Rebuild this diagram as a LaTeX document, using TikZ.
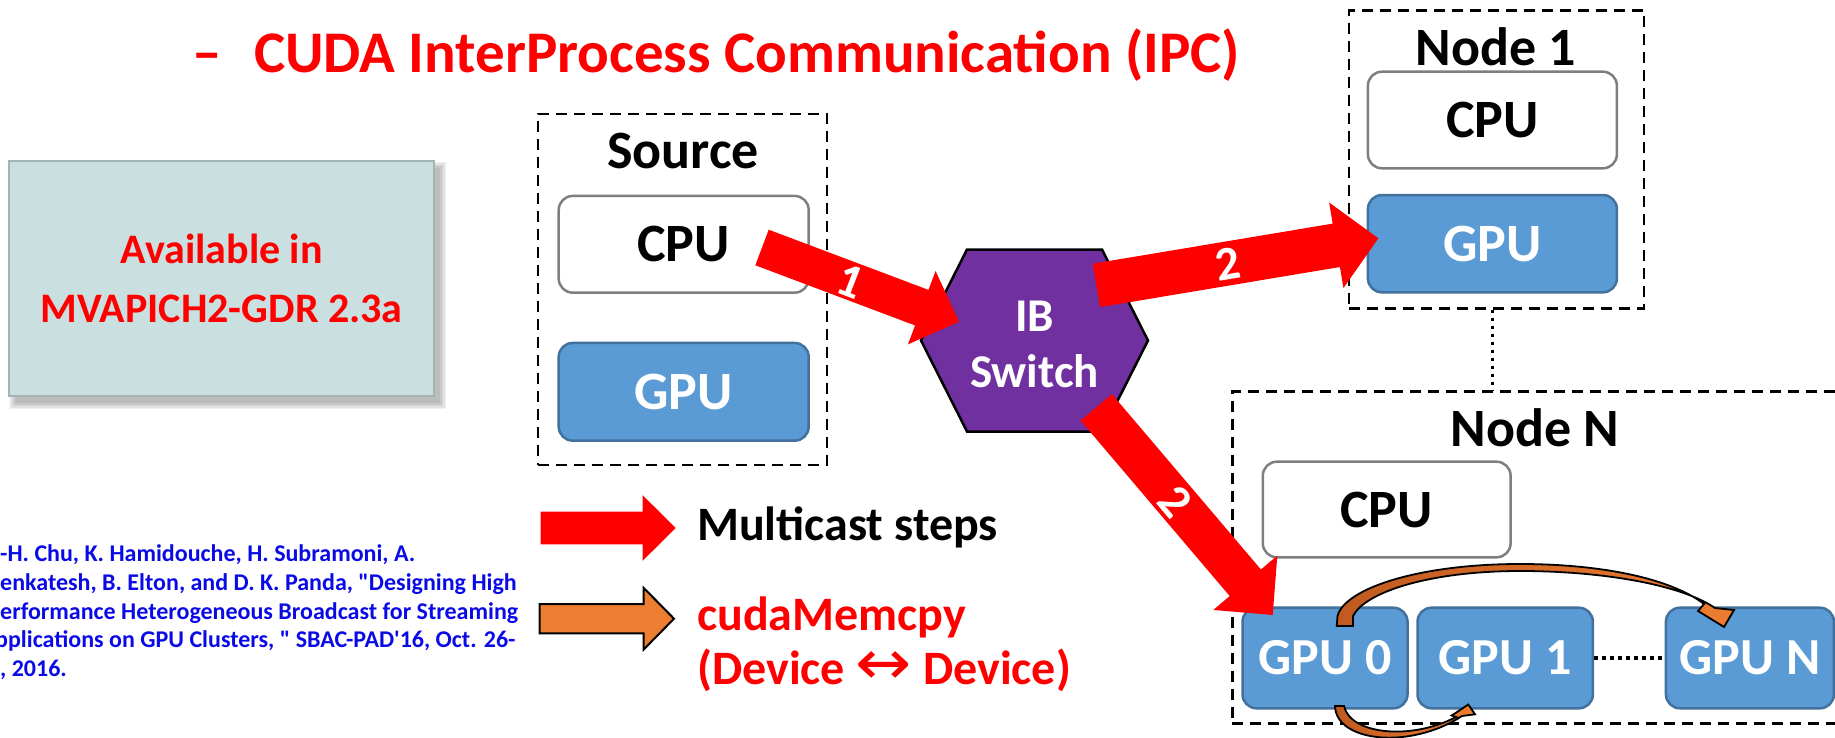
\documentclass[tikz,border=0pt]{standalone}
\usepackage{fontspec}
\setmainfont{Carlito}
\newfontfamily\dejavu{DejaVu Sans}
\usetikzlibrary{calc}
\definecolor{gpufill}{HTML}{5B9BD5}
\definecolor{gpuline}{HTML}{41719C}
\definecolor{cpuline}{HTML}{7F7F7F}
\definecolor{ibfill}{HTML}{7030A0}
\definecolor{orangeA}{HTML}{ED7D31}
\definecolor{orangeB}{HTML}{C05A20}
\definecolor{notefill}{HTML}{CADFDF}
\definecolor{noteline}{HTML}{A3B4B4}
\definecolor{refblue}{RGB}{10,10,230}
\definecolor{pptred}{HTML}{FF0000}
% #1 style, #2 tail, #3 tip, #4 half shaft, #5 half head, #6 head length
\newcommand{\fatarrow}[6]{%
  \coordinate (fa-h) at ($(#3)!#6!(#2)$);
  \path[#1] ($(#2)!#4!90:(#3)$) -- ($(fa-h)!#4!90:(#3)$) -- ($(fa-h)!#5!90:(#3)$)
    -- (#3) -- ($(fa-h)!#5!-90:(#3)$) -- ($(fa-h)!#4!-90:(#3)$) -- ($(#2)!#4!-90:(#3)$) -- cycle;}
\begin{document}
\begin{tikzpicture}[x=1pt,y=-1pt,
  dashbox/.style={draw=black, line width=2.5pt, dash pattern=on 11pt off 7pt, inner sep=0pt},
  cpubox/.style={draw=cpuline, fill=white, line width=2.5pt, rounded corners=14pt, inner sep=0pt, text=black, font=\fontsize{54}{60}\selectfont\bfseries},
  gpubox/.style={draw=gpuline, fill=gpufill, line width=2.5pt, rounded corners=14pt, inner sep=0pt, text=white, font=\fontsize{54}{60}\selectfont\bfseries},
  gpusmall/.style={gpubox, font=\fontsize{52}{60}\selectfont\bfseries},
  heading/.style={anchor=base, inner sep=0pt, font=\fontsize{54}{60}\selectfont\bfseries},
  dotline/.style={line width=3.5pt, dash pattern=on 3.5pt off 4.5pt},
  arrlabel/.style={text=white, inner sep=0pt, font=\fontsize{48}{56}\selectfont\bfseries},
  redarrow/.style={fill=pptred},
  orangearrow/.style={fill=orangeA, draw=black, line width=2pt, line join=miter},
  curlarrow/.style={draw=black, line width=1.8pt, line join=miter, left color=orangeB, right color=orangeA},
]
\useasboundingbox (0,0) rectangle (1835,738);

% title
\node[anchor=base, inner sep=0pt, text=pptred, font=\fontsize{59}{72}\selectfont\bfseries] (dash) at (207,73) {–};
\node[anchor=base west, inner sep=0pt, text=pptred, font=\fontsize{59}{72}\selectfont\bfseries] (title) at (254,73) {CUDA InterProcess Communication (IPC)};

% note box with soft shadow
\foreach \s in {0,1.5,3,4.5,6} {\fill[black, opacity=0.06] (15.3-\s,167.7-\s) rectangle (440+\s,403+\s);}
\node[draw=noteline, fill=notefill, line width=2pt, minimum width=424.7pt, minimum height=235.3pt, inner sep=0pt, align=center, text=pptred, font=\fontsize{42}{58.4}\selectfont\bfseries] (note) at (221.7,278.3) {Available in\\MVAPICH2-GDR 2.3a};

% reference (base anchor = last line)
\node[anchor=base west, inner sep=0pt, align=left, text=refblue, font=\fontsize{24}{28.8}\selectfont\bfseries] (ref) at (0,676.7) {-H. Chu, K. Hamidouche, H. Subramoni, A.\\enkatesh, B. Elton, and D. K. Panda, \textquotedbl Designing High\\erformance Heterogeneous Broadcast for Streaming\\\hspace*{-5pt}pplications on GPU Clusters, \textquotedbl{} SBAC-PAD\textquotesingle16, Oct. 26-\\, 2016.};

% source
\node[dashbox, minimum width=289pt, minimum height=351pt] (srcbox) at (682.5,289.5) {};
\node[heading] (srclabel) at (683,168) {Source};
\node[cpubox, minimum width=250pt, minimum height=96.7pt] (scpu) at (683.7,244.3) {CPU};
\node[gpubox, minimum width=250pt, minimum height=97.7pt] (sgpu) at (683.7,391.8) {GPU};

% IB switch
\coordinate (ibc) at (1034.5,340.5);
\draw[fill=ibfill, line width=2.5pt, line join=miter] ($(ibc)+(-67.5,-91)$) -- ($(ibc)+(67.5,-91)$) -- ($(ibc)+(113.5,0)$) -- ($(ibc)+(67.5,91)$) -- ($(ibc)+(-67.5,91)$) -- ($(ibc)+(-113.5,0)$) -- cycle;
\node[align=center, text=white, inner sep=0pt, font=\fontsize{47}{56}\selectfont\bfseries] (ib) at (1034.5,344) {IB\\Switch};

% node 1
\node[dashbox, minimum width=295pt, minimum height=297.6pt] (n1box) at (1496.5,159.5) {};
\node[heading] (n1label) at (1496,66) {Node 1};
\node[cpubox, minimum width=249pt, minimum height=96.6pt] (n1cpu) at (1492.4,120) {CPU};
\node[gpubox, minimum width=249pt, minimum height=97.3pt] (n1gpu) at (1492.4,243.7) {GPU};

% node N
\node[dashbox, minimum width=612.6pt, minimum height=331.6pt] (nNbox) at (1538.7,557.5) {};
\node[heading] (nNlabel) at (1535,446) {Node N};
\node[cpubox, minimum width=247.8pt, minimum height=95.6pt] (nNcpu) at (1386.7,509.5) {CPU};
\node[gpusmall, minimum width=165pt, minimum height=100.6pt] (g0) at (1325,658) {GPU 0};
\node[gpusmall, minimum width=175.4pt, minimum height=100.6pt] (g1) at (1505.2,658) {GPU 1};
\node[gpusmall, minimum width=168pt, minimum height=100.6pt] (gN) at (1749.9,658) {GPU N};

% dotted links
\coordinate (d1) at ([xshift=-4pt]n1box.south);
\draw[dotline] (d1) -- (d1 |- nNbox.north);
\draw[dotline] (g1.east) -- (gN.west);

% cudaMemcpy curved arrows
\path[curlarrow] (1336.7,626) -- (1337.5,616) .. controls (1345,588) and (1420,564) .. (1520,564)
  .. controls (1600,564) and (1670,578) .. (1704,604) -- (1698,611) -- (1724,627) -- (1734,610) -- (1715,608)
  .. controls (1680,584) and (1600,571) .. (1520,571) .. controls (1430,571) and (1365,592) .. (1353,616) -- (1353,626) -- cycle;
\path[curlarrow] (1335,706) .. controls (1336,742) and (1410,750) .. (1462,716) -- (1475,714.3) -- (1468.3,704.5) -- (1451.7,715.5)
  -- (1456,717) .. controls (1410,741) and (1350,734) .. (1344,706) -- cycle;

% multicast arrows
\coordinate (a1s) at (762,247.5); \coordinate (a1e) at (959,321.7);
\fatarrow{redarrow}{a1s}{a1e}{19pt}{39.2pt}{39.8pt}
\coordinate (a2s) at (1096.4,285.4); \coordinate (a2e) at (1378.3,238.3);
\fatarrow{redarrow}{a2s}{a2e}{22pt}{43.4pt}{42.6pt}
\coordinate (a3s) at (1096.2,407.3); \coordinate (a3e) at (1272.7,615);
\fatarrow{redarrow}{a3s}{a3e}{20.5pt}{42pt}{42.3pt}
\node[arrlabel, rotate=-20.9] (l1) at (850,281) {1};
\node[arrlabel, rotate=9.5] (l2) at (1227.8,264) {2};
\node[arrlabel, rotate=-49.6] (l3) at (1175,502) {2};

% legend
\coordinate (lr1) at (540.7,528); \coordinate (lr2) at (675.7,528);
\fatarrow{redarrow}{lr1}{lr2}{16.3pt}{32.9pt}{33.2pt}
\coordinate (lo1) at (539.6,618.7); \coordinate (lo2) at (674,618.7);
\fatarrow{orangearrow}{lo1}{lo2}{14.7pt}{30.9pt}{30.4pt}
\node[anchor=base west, inner sep=0pt, font=\fontsize{48}{54}\selectfont\bfseries] (lt1) at (697,540.7) {Multicast steps};
\node[anchor=base west, inner sep=0pt, align=left, text=pptred, font=\fontsize{48}{54}\selectfont\bfseries] (lt2) at (697,684) {cudaMemcpy\\(Device \scalebox{1.4}[1.3]{\dejavu\mdseries ↔} Device)};
\end{tikzpicture}
\end{document}
